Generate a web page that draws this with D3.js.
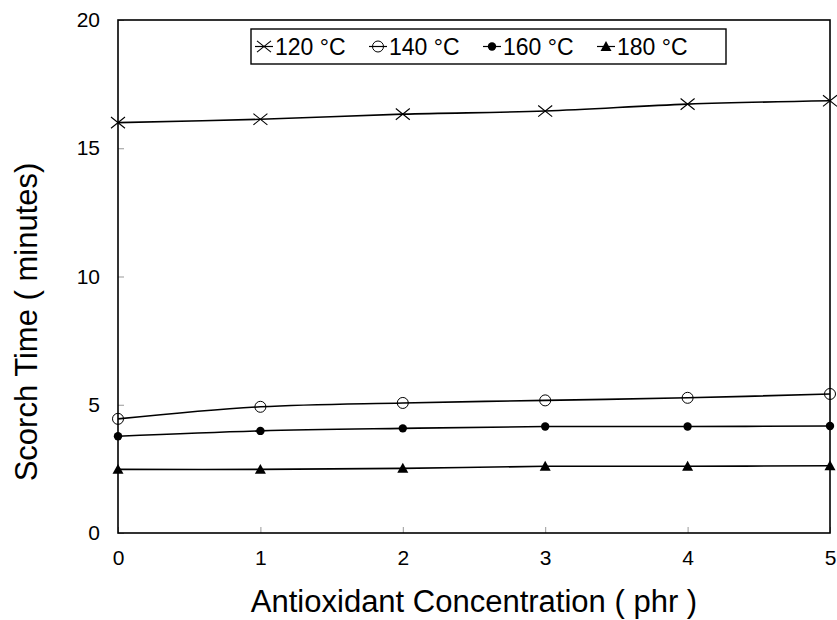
<!DOCTYPE html>
<html>
<head>
<meta charset="utf-8">
<script src="https://cdn.jsdelivr.net/npm/d3@7"></script>
<style>
  html, body { margin: 0; padding: 0; background: #fff; }
  svg { display: block; font-family: "Liberation Sans", Arial, sans-serif; }
</style>
</head>
<body>
<svg id="chart" width="837" height="620"></svg>
<script>
// ---- data ----
const concentrations = [0, 1, 2, 3, 4, 5];
const seriesNames = ["120 °C", "140 °C", "160 °C", "180 °C"];
const s120 = [16.0, 16.13, 16.33, 16.45, 16.72, 16.85];
const s140 = [4.45, 4.92, 5.07, 5.17, 5.27, 5.42];
const s160 = [3.77, 3.98, 4.08, 4.15, 4.15, 4.17];
const s180 = [2.48, 2.48, 2.52, 2.6, 2.6, 2.62];
const yTicks = [0, 5, 10, 15, 20];
const xTicks = [0, 1, 2, 3, 4, 5];
const markerTypes = ["cross", "circle", "dot", "triangle"];

const seriesValues = [s120, s140, s160, s180];

// ---- layout ----
const svg = d3.select("#chart");
const pLeft = 118, pRight = 830, pTop = 20, pBottom = 533;

const x = d3.scaleLinear().domain([0, 5]).range([pLeft, pRight]);
const y = d3.scaleLinear().domain([0, 20]).range([pBottom, pTop]);

// inner tick marks
const gx = svg.append("g").attr("transform", `translate(0,${pBottom})`)
  .call(d3.axisBottom(x).tickValues(xTicks).tickFormat(d3.format("d")).tickSizeInner(-6).tickSizeOuter(0).tickPadding(17));
const gy = svg.append("g").attr("transform", `translate(${pLeft},0)`)
  .call(d3.axisLeft(y).tickValues(yTicks).tickFormat(d3.format("d")).tickSizeInner(-6).tickSizeOuter(0).tickPadding(18));
[gx, gy].forEach(g => {
  g.select(".domain").remove();
  g.selectAll(".tick line").attr("stroke", "#999").attr("stroke-width", 1);
  g.selectAll(".tick text").attr("font-size", 21).attr("fill", "#000")
    .attr("font-family", "'Liberation Sans', Arial, sans-serif");
});

// frame
svg.append("rect").attr("x", pLeft).attr("y", pTop)
  .attr("width", pRight - pLeft).attr("height", pBottom - pTop)
  .attr("fill", "none").attr("stroke", "#000").attr("stroke-width", 1.6);

// axis titles
svg.append("text").attr("x", (pLeft + pRight) / 2).attr("y", 612)
  .attr("text-anchor", "middle").attr("font-size", 31).text("Antioxidant Concentration ( phr )");
svg.append("text").attr("transform", `translate(37,322) rotate(-90)`)
  .attr("text-anchor", "middle").attr("font-size", 31).text("Scorch Time ( minutes)");

// lines
const line = d3.line().x((d, i) => x(concentrations[i])).y(d => y(d)).curve(d3.curveCatmullRom.alpha(0.5));

function drawMarker(g, type, cx, cy) {
  if (type === "cross") {
    const r = 7;
    g.append("path").attr("d", `M${cx - r},${cy - r * 0.8}L${cx + r},${cy + r * 0.8}M${cx - r},${cy + r * 0.8}L${cx + r},${cy - r * 0.8}`)
      .attr("stroke", "#000").attr("stroke-width", 1.1).attr("fill", "none");
  } else if (type === "circle") {
    g.append("circle").attr("cx", cx).attr("cy", cy).attr("r", 5.5)
      .attr("fill", "none").attr("stroke", "#000").attr("stroke-width", 1);
  } else if (type === "dot") {
    g.append("circle").attr("cx", cx).attr("cy", cy).attr("r", 4.2).attr("fill", "#000");
  } else {
    const s = 5.5;
    g.append("path").attr("d", `M${cx},${cy - s}L${cx + s},${cy + s * 0.8}L${cx - s},${cy + s * 0.8}Z`).attr("fill", "#000");
  }
}

seriesValues.forEach((vals, k) => {
  const g = svg.append("g");
  g.append("path").attr("d", line(vals)).attr("fill", "none").attr("stroke", "#000").attr("stroke-width", 1.6);
  vals.forEach((v, i) => drawMarker(g, markerTypes[k], x(concentrations[i]), y(v)));
});

// legend
const lg = svg.append("g");
const lx = 251, ly = 29, lw = 475, lh = 35;
lg.append("rect").attr("x", lx).attr("y", ly).attr("width", lw).attr("height", lh)
  .attr("fill", "#fff").attr("stroke", "#000").attr("stroke-width", 1.4);
const markerX = [264, 378, 492, 606];
seriesNames.forEach((name, k) => {
  const cx = markerX[k], cy = ly + lh / 2;
  lg.append("line").attr("x1", cx - 9).attr("x2", cx + 9).attr("y1", cy).attr("y2", cy)
    .attr("stroke", "#000").attr("stroke-width", 1.2);
  drawMarker(lg, markerTypes[k], cx, cy);
  lg.append("text").attr("x", cx + 11).attr("y", cy + 8).attr("font-size", 23).text(name);
});
</script>
</body>
</html>
